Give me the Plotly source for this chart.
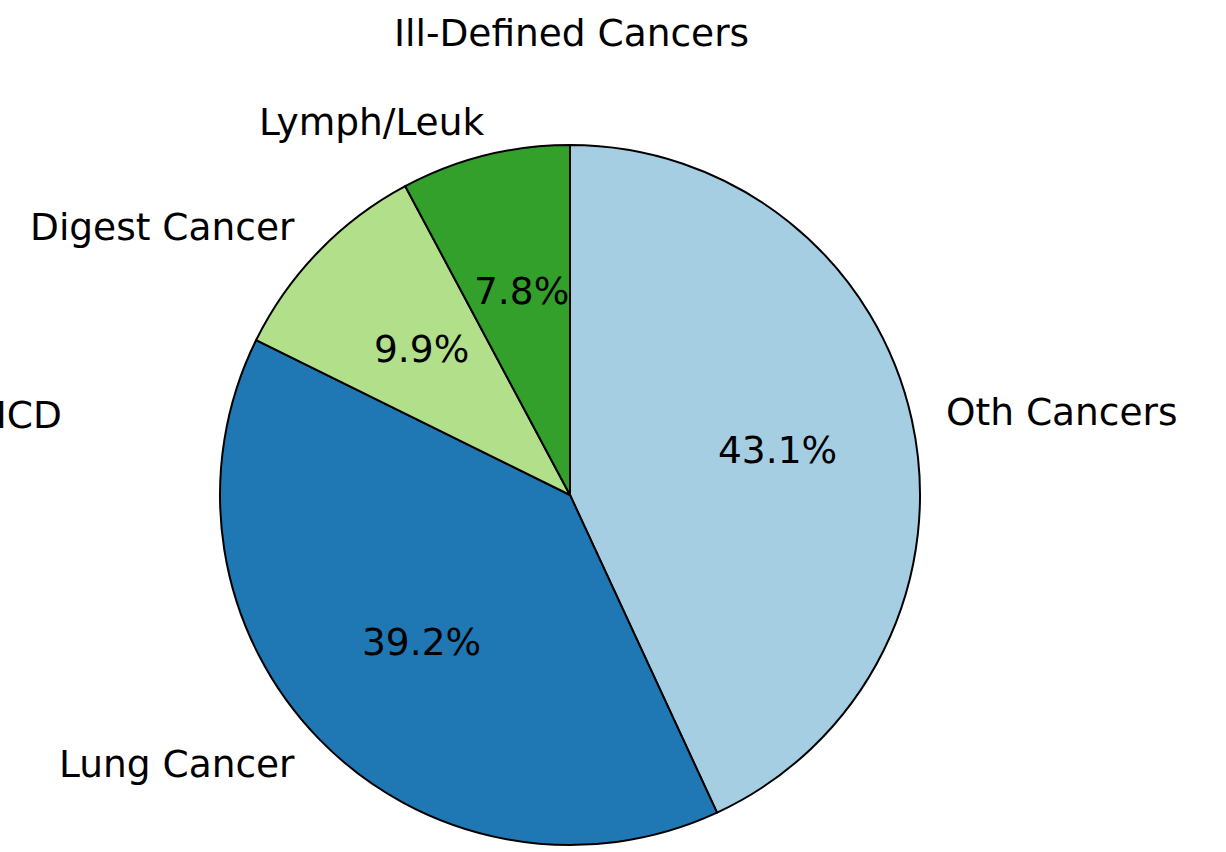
import math
import plotly.graph_objects as go

# Data
categories = ["Oth Cancers", "Lung Cancer", "Digest Cancer", "Lymph/Leuk"]
values = [43.1, 39.2, 9.9, 7.8]
colors = ["#a6cee3", "#1f78b4", "#b2df8a", "#33a02c"]
extra_labels = ["Ill-Defined Cancers", "NonICD"]  # zero-share categories

W, H = 1226, 852
cx, cy, R = 570, 495, 350  # pie centre/radius in pixels (layout)
FONT = dict(family="DejaVu Sans", size=37.5, color="black")
label_nudge = {"Lymph/Leuk": 6}  # extra x shift (px) for crowded label

fig = go.Figure()
fig.add_trace(go.Pie(
    labels=categories, values=values, sort=False, direction="clockwise",
    rotation=0, textinfo="none", hoverinfo="label+percent",
    marker=dict(colors=colors, line=dict(color="black", width=2)),
    domain=dict(x=[(cx - R) / W, (cx + R) / W],
                y=[(H - cy - R) / H, (H - cy + R) / H]),
    showlegend=False,
))

def to_paper(ang_deg, dist):
    a = math.radians(ang_deg)
    px = cx + dist * R * math.cos(a)
    py = cy - dist * R * math.sin(a)
    return px / W, 1 - py / H

annotations = []
total = sum(values)
start = 90.0
for lab, v in zip(categories, values):
    span = 360.0 * v / total
    mid = start - span / 2
    start -= span
    # outer label
    x, y = to_paper(mid, 1.1)
    right_side = math.cos(math.radians(mid)) > 0
    annotations.append(dict(x=x, y=y, xref="paper", yref="paper", text=lab,
                            showarrow=False, font=FONT,
                            xanchor="left" if right_side else "right",
                            xshift=(-2 if right_side else 3) + label_nudge.get(lab, 0),
                            yanchor="middle"))
    # percentage label
    x, y = to_paper(mid, 0.6)
    annotations.append(dict(x=x, y=y, xref="paper", yref="paper",
                            text=f"{100 * v / total:.1f}%", showarrow=False,
                            font=FONT, xanchor="center", yanchor="middle",
                            xshift=2))

# zero-share category labels
annotations.append(dict(x=571 / W, y=1 - 33 / H, xref="paper", yref="paper",
                        text=extra_labels[0], showarrow=False, font=FONT,
                        xanchor="center", yanchor="middle"))
annotations.append(dict(x=58 / W, y=1 - 415 / H, xref="paper", yref="paper",
                        text=extra_labels[1], showarrow=False, font=FONT,
                        xanchor="right", yanchor="middle", xshift=6))

fig.update_layout(
    width=W, height=H, margin=dict(l=0, r=0, t=0, b=0),
    paper_bgcolor="white", plot_bgcolor="white",
    annotations=annotations,
)
fig.write_html("out.html", config={"displayModeBar": False},
               post_script="document.body.style.margin='0px';"
                           "document.body.style.padding='0px';")
